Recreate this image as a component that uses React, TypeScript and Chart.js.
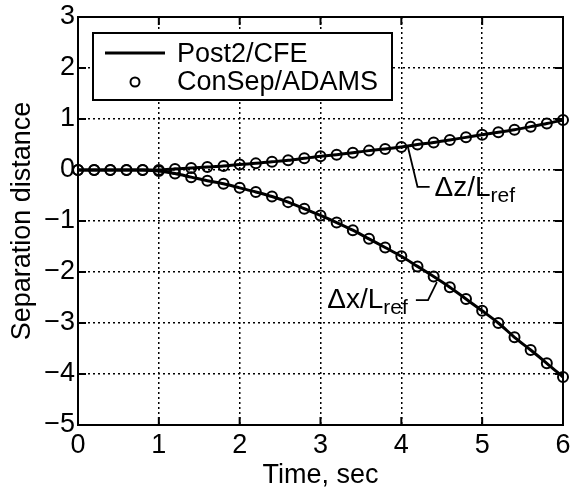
import React, { useEffect, useRef } from "react";
import { Chart, registerables } from "chart.js";

Chart.register(...registerables);

// ---- data ----
const TIME = [0, 0.2, 0.4, 0.6, 0.8, 1.0, 1.2, 1.4, 1.6, 1.8, 2.0, 2.2, 2.4, 2.6, 2.8, 3.0, 3.2, 3.4, 3.6, 3.8, 4.0, 4.2, 4.4, 4.6, 4.8, 5.0, 5.2, 5.4, 5.6, 5.8, 6.0];
const DZ = [0, 0, 0, 0, 0, 0, 0.02, 0.04, 0.06, 0.08, 0.11, 0.13, 0.16, 0.19, 0.23, 0.27, 0.30, 0.34, 0.38, 0.41, 0.45, 0.50, 0.54, 0.59, 0.64, 0.69, 0.74, 0.79, 0.85, 0.91, 0.98];
const DX = [0, 0, 0, 0, 0, -0.02, -0.07, -0.14, -0.21, -0.27, -0.35, -0.43, -0.52, -0.63, -0.76, -0.89, -1.03, -1.18, -1.35, -1.52, -1.69, -1.89, -2.09, -2.30, -2.53, -2.76, -3.0, -3.28, -3.53, -3.79, -4.06];
const X_TICKS = [0, 1, 2, 3, 4, 5, 6];
const Y_TICKS = [-5, -4, -3, -2, -1, 0, 1, 2, 3];
const SERIES_NAMES = ["Post2/CFE", "ConSep/ADAMS"];
const X_TITLE = "Time, sec";
const Y_TITLE = "Separation distance";
const DZ_LABEL = ["\u0394z/L", "ref"];
const DX_LABEL = ["\u0394x/L", "ref"];

const FONT = "'Liberation Sans', Arial, Helvetica, sans-serif";
const FS = 27;

const pts = (ys: number[]) => TIME.map((t, i) => ({ x: t, y: ys[i] }));

const decorPlugin = {
  id: "decor",
  afterDraw(chart: any) {
    const { ctx, chartArea: a, scales } = chart;
    const xs = scales.x;
    const ys = scales.y;
    const px = (v: number) => xs.getPixelForValue(v);
    const py = (v: number) => ys.getPixelForValue(v);
    ctx.save();
    // frame
    ctx.strokeStyle = "#000";
    ctx.lineWidth = 2;
    ctx.strokeRect(a.left, a.top, a.right - a.left, a.bottom - a.top);
    // inward ticks
    const tl = 8;
    ctx.beginPath();
    for (const v of X_TICKS) {
      const p = px(v);
      ctx.moveTo(p, a.bottom);
      ctx.lineTo(p, a.bottom - tl);
      ctx.moveTo(p, a.top);
      ctx.lineTo(p, a.top + tl);
    }
    for (const v of Y_TICKS) {
      const p = py(v);
      ctx.moveTo(a.left, p);
      ctx.lineTo(a.left + tl, p);
      ctx.moveTo(a.right, p);
      ctx.lineTo(a.right - tl, p);
    }
    ctx.stroke();

    // annotation leaders
    ctx.lineWidth = 1.8;
    ctx.beginPath();
    ctx.moveTo(px(4.08), py(0.46));
    ctx.lineTo(px(4.2), py(-0.33));
    ctx.lineTo(px(4.35), py(-0.33));
    ctx.moveTo(px(4.44), py(-2.2));
    ctx.lineTo(px(4.33), py(-2.55));
    ctx.lineTo(px(4.18), py(-2.55));
    ctx.stroke();

    // annotation text
    ctx.fillStyle = "#000";
    ctx.textBaseline = "alphabetic";
    const drawSub = (parts: string[], x: number, y: number, align: "left" | "right") => {
      ctx.font = `28px ${FONT}`;
      const w1 = ctx.measureText(parts[0]).width;
      ctx.font = `21px ${FONT}`;
      const w2 = ctx.measureText(parts[1]).width;
      const x0 = align === "left" ? x : x - w1 - w2;
      ctx.textAlign = "left";
      ctx.font = `28px ${FONT}`;
      ctx.fillText(parts[0], x0, y);
      ctx.font = `21px ${FONT}`;
      ctx.fillText(parts[1], x0 + w1, y + 6);
    };
    drawSub(DZ_LABEL, px(4.41), py(-0.51), "left");
    drawSub(DX_LABEL, px(4.08), py(-2.71), "right");

    // legend
    const lx = a.left + 15;
    const ly = a.top + 16;
    const lw = 299;
    const lh = 67;
    ctx.fillStyle = "#fff";
    ctx.fillRect(lx, ly, lw, lh);
    ctx.strokeStyle = "#000";
    ctx.lineWidth = 2;
    ctx.strokeRect(lx, ly, lw, lh);
    ctx.lineWidth = 3;
    ctx.beginPath();
    ctx.moveTo(lx + 12, ly + 20);
    ctx.lineTo(lx + 72, ly + 20);
    ctx.stroke();
    ctx.lineWidth = 2;
    ctx.beginPath();
    ctx.arc(lx + 42, ly + 49, 4.5, 0, Math.PI * 2);
    ctx.stroke();
    ctx.fillStyle = "#000";
    ctx.font = `${FS}px ${FONT}`;
    ctx.textAlign = "left";
    ctx.fillText(SERIES_NAMES[0], lx + 84, ly + 29);
    ctx.fillText(SERIES_NAMES[1], lx + 84, ly + 57);
    ctx.restore();
  },
};

export default function App() {
  const ref = useRef<HTMLCanvasElement | null>(null);
  useEffect(() => {
    document.body.style.margin = "0";
    if (!ref.current) return;
    const lineDs = (data: number[]) => ({
      label: SERIES_NAMES[0],
      data: pts(data),
      borderColor: "#000",
      borderWidth: 3,
      pointRadius: 0,
      showLine: true,
      tension: 0.3,
      fill: false,
      clip: false as any,
    });
    const dotDs = (data: number[]) => ({
      label: SERIES_NAMES[1],
      data: pts(data),
      borderColor: "#000",
      backgroundColor: "rgba(0,0,0,0)",
      borderWidth: 2,
      pointRadius: 5,
      pointBorderWidth: 2,
      pointStyle: "circle",
      showLine: false,
      clip: false as any,
    });
    const chart = new Chart(ref.current, {
      type: "scatter",
      data: {
        datasets: [lineDs(DX), lineDs(DZ), dotDs(DX), dotDs(DZ)] as any,
      },
      options: {
        animation: false,
        responsive: false,
        maintainAspectRatio: false,
        devicePixelRatio: 1,
        layout: { padding: { left: 0, right: 4, top: 17, bottom: 0 } },
        plugins: { legend: { display: false }, tooltip: { enabled: false } },
        scales: {
          x: {
            type: "linear",
            min: 0,
            max: 6,
            afterBuildTicks: (s: any) => {
              s.ticks = X_TICKS.map((v) => ({ value: v }));
            },
            afterFit: (s: any) => {
              s.height = 67;
              s.paddingLeft = 0;
              s.paddingRight = 0;
            },
            ticks: {
              color: "#000",
              font: { family: FONT, size: FS },
              padding: 4,
              maxRotation: 0,
              autoSkip: false,
            },
            grid: {
              color: "#000",
              lineWidth: 1.5,
              drawTicks: false,
              borderDash: [2, 3],
            } as any,
            border: { display: false, dash: [2, 3] } as any,
            title: {
              display: true,
              text: X_TITLE,
              color: "#000",
              font: { family: FONT, size: FS },
              padding: { top: 0, bottom: 0 },
            },
          },
          y: {
            type: "linear",
            min: -5,
            max: 3,
            afterBuildTicks: (s: any) => {
              s.ticks = Y_TICKS.map((v) => ({ value: v }));
            },
            afterFit: (s: any) => {
              s.width = 78;
              s.paddingTop = 0;
              s.paddingBottom = 0;
            },
            ticks: {
              color: "#000",
              font: { family: FONT, size: FS },
              padding: 3,
              autoSkip: false,
              callback: (v: any) => String(v).replace("-", "\u2212"),
            },
            grid: {
              color: "#000",
              lineWidth: 1.5,
              drawTicks: false,
              borderDash: [2, 3],
            } as any,
            border: { display: false, dash: [2, 3] } as any,
            title: {
              display: true,
              text: Y_TITLE,
              color: "#000",
              font: { family: FONT, size: FS },
              padding: { top: 6, bottom: 0 },
            },
          },
        },
      } as any,
      plugins: [decorPlugin],
    });
    return () => chart.destroy();
  }, []);
  return (
    <div style={{ width: 570, height: 492 }}>
      <canvas ref={ref} width={570} height={492} style={{ display: "block" }} />
    </div>
  );
}
